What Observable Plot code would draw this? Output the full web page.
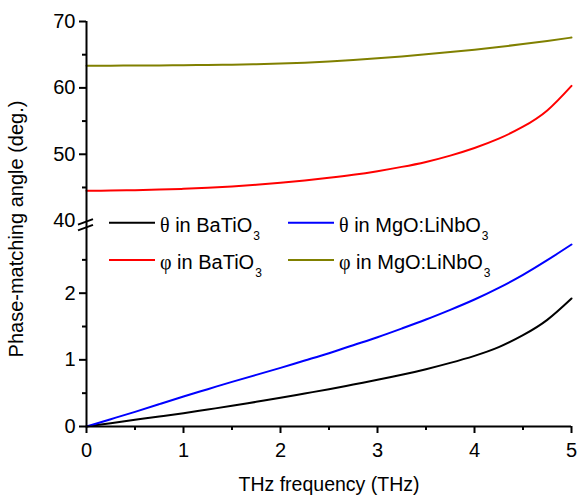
<!DOCTYPE html>
<html>
<head>
<meta charset="utf-8">
<script src="https://cdn.jsdelivr.net/npm/d3@7"></script>
<script src="https://cdn.jsdelivr.net/npm/@observablehq/plot@0.6"></script>
<style>
  html, body { margin: 0; padding: 0; background: white; }
  #chart { width: 578px; height: 499px; }
</style>
</head>
<body>
<div id="chart"></div>
<script>
// ---- data (every 0.25 THz) ----
const freq = [0, 0.25, 0.5, 0.75, 1, 1.25, 1.5, 1.75, 2, 2.25, 2.5, 2.75, 3, 3.25, 3.5, 3.75, 4, 4.25, 4.5, 4.75, 5];
const thetaBaTiO3 = [0, 0.05, 0.10, 0.15, 0.20, 0.255, 0.31, 0.37, 0.43, 0.495, 0.56, 0.63, 0.70, 0.775, 0.86, 0.955, 1.06, 1.19, 1.37, 1.60, 1.92];
const thetaMgOLN  = [0, 0.11, 0.22, 0.335, 0.45, 0.56, 0.67, 0.775, 0.88, 0.99, 1.10, 1.22, 1.34, 1.47, 1.605, 1.75, 1.905, 2.08, 2.275, 2.495, 2.73];
const phiBaTiO3   = [44.5, 44.54, 44.6, 44.68, 44.8, 44.95, 45.15, 45.4, 45.7, 46.05, 46.45, 46.9, 47.45, 48.1, 48.85, 49.8, 50.95, 52.35, 54.15, 56.6, 60.3];
const phiMgOLN    = [63.35, 63.35, 63.36, 63.38, 63.41, 63.45, 63.5, 63.57, 63.67, 63.8, 63.97, 64.19, 64.45, 64.74, 65.05, 65.39, 65.76, 66.16, 66.6, 67.07, 67.58];

const seriesNames = ["θ in BaTiO3", "θ in MgO:LiNbO3", "φ in BaTiO3", "φ in MgO:LiNbO3"];
const seriesColors = ["#000000", "#0000ff", "#ff0000", "#808000"];

const xTicks = [0, 1, 2, 3, 4, 5];
const xMinorTicks = [0.5, 1.5, 2.5, 3.5, 4.5];
const lowTicks = [0, 1, 2];
const lowMinorTicks = [0.5, 1.5, 2.5];
const highTicks = [50, 60, 70];
const highBreakTick = [40];
const highMinorTicks = [45, 55, 65];

// broken axis: lower segment in its own units, upper segment (deg) stacked above
const BREAK_BASE = 3.088;   // where 40 deg sits on the shared axis
const DEG_UNIT = 0.0996;    // shared-axis units per degree
const up = d => BREAK_BASE + (d - 40) * DEG_UNIT;
const down = u => (u - BREAK_BASE) / DEG_UNIT + 40;

const rows = [];
freq.forEach((f, i) => {
  rows.push({f, v: thetaBaTiO3[i], s: 0});
  rows.push({f, v: thetaMgOLN[i], s: 1});
  rows.push({f, v: up(phiBaTiO3[i]), s: 2});
  rows.push({f, v: up(phiMgOLN[i]), s: 3});
});

const font = "'Liberation Sans', Arial, sans-serif";

function breakMarks(index, scales, values, dim) {
  const g = d3.create("svg:g").attr("stroke", "black").attr("stroke-width", 2).attr("fill", "none");
  const x0 = scales.x(0);
  for (const u of [3.066, 2.979]) {
    const y = scales.y(u);
    g.append("line").attr("x1", x0 - 8).attr("y1", y + 3).attr("x2", x0 + 7).attr("y2", y - 2.5);
  }
  return g.node();
}

function legend(index, scales, values, dim) {
  const g = d3.create("svg:g").attr("font-family", font).attr("font-size", 20)
    .attr("fill", "black").attr("text-anchor", "start");
  const x0 = scales.x(0);
  const yBase = scales.y(0);
  const items = [
    {k: 0, col: 0, row: 0}, {k: 1, col: 1, row: 0},
    {k: 2, col: 0, row: 1}, {k: 3, col: 1, row: 1}
  ];
  for (const it of items) {
    const lx = x0 + 23 + it.col * 179;
    const base = yBase - 194.3 + it.row * 37.3;
    g.append("line").attr("x1", lx).attr("x2", lx + 46)
      .attr("y1", base - 9).attr("y2", base - 9)
      .attr("stroke", seriesColors[it.k]).attr("stroke-width", 2);
    const name = seriesNames[it.k];
    const t = g.append("text").attr("x", lx + 51).attr("y", base);
    t.append("tspan").attr("font-family", "'Liberation Serif', 'DejaVu Serif', serif").text(name[0]);
    t.append("tspan").text(name.slice(1, -1));
    t.append("tspan").attr("font-size", 12).attr("dx", 1).attr("dy", 8.3).text(name.slice(-1));
  }
  return g.node();
}

const chart = Plot.plot({
  width: 578,
  height: 499,
  marginLeft: 86,
  marginRight: 7,
  marginTop: 21,
  marginBottom: 73,
  style: {fontFamily: font, fontSize: "20px", color: "black", background: "white", overflow: "visible"},
  x: {domain: [0, 5]},
  y: {domain: [0, up(70)]},
  marks: [
    Plot.line(rows, {x: "f", y: "v", z: "s", stroke: d => seriesColors[d.s], strokeWidth: 2, curve: "natural"}),
    Plot.ruleY([0], {x1: 0, x2: 5, stroke: "black", strokeWidth: 2}),
    Plot.ruleX([0], {y1: 0, y2: up(70), stroke: "black", strokeWidth: 2}),
    Plot.axisX({ticks: xTicks, tickSize: 7, tickPadding: 9, strokeWidth: 2, fontSize: 20, tickFormat: d => String(d), label: null}),
    Plot.axisX({ticks: xMinorTicks, tickSize: 4, strokeWidth: 2, tickFormat: () => "", label: null}),
    Plot.axisY({ticks: lowTicks, tickSize: 7, tickPadding: 4, strokeWidth: 2, fontSize: 20, tickFormat: d => String(d), label: null}),
    Plot.axisY({ticks: lowMinorTicks, tickSize: 4, strokeWidth: 2, tickFormat: () => "", label: null}),
    Plot.axisY({ticks: highTicks.map(up), tickSize: 7, tickPadding: 4, strokeWidth: 2, fontSize: 20, tickFormat: u => String(Math.round(down(u))), label: null}),
    Plot.axisY({ticks: highBreakTick.map(up), tickSize: 0, tickPadding: 11, fontSize: 20, tickFormat: u => String(Math.round(down(u))), label: null}),
    Plot.axisY({ticks: highMinorTicks.map(up), tickSize: 4, strokeWidth: 2, tickFormat: () => "", label: null}),
    breakMarks,
    legend,
    Plot.text(["THz frequency (THz)"], {frameAnchor: "bottom", textAnchor: "middle", lineAnchor: "middle", dy: 58.5, fontSize: 19.5, fill: "black"}),
    Plot.text(["Phase-matching angle (deg.)"], {frameAnchor: "left", textAnchor: "middle", lineAnchor: "middle", dx: -69.5, dy: 5, rotate: -90, fontSize: 20, fill: "black"})
  ]
});
document.getElementById("chart").appendChild(chart);
</script>
</body>
</html>
